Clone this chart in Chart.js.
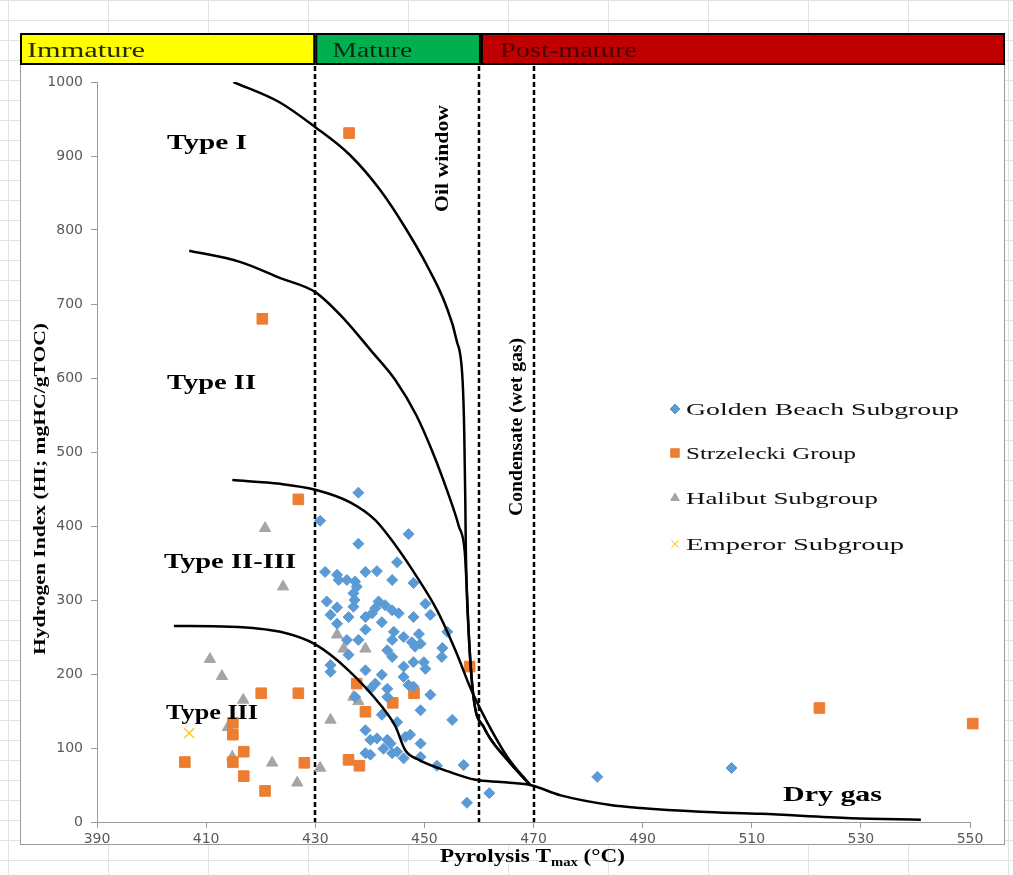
<!DOCTYPE html>
<html>
<head>
<meta charset="utf-8">
<script src="https://cdn.jsdelivr.net/npm/chart.js@4.4.1/dist/chart.umd.min.js"></script>
<style>
  html, body {
    margin: 0; padding: 0; width: 1013px; height: 875px; overflow: hidden;
    background-color: #fff;
    background-image: linear-gradient(to right, #e2e2e2 1px, transparent 1px),
                      linear-gradient(to bottom, #e2e2e2 1px, transparent 1px);
    background-size: 100px 20px;
    background-position: 8px 0;
  }
  #wrap { position: absolute; left: 0; top: 0; width: 1013px; height: 875px; }
  canvas { display: block; }
</style>
</head>
<body>
<div id="wrap"><canvas id="chart" width="1013" height="875"></canvas></div>
<script>
// sample points: [Tmax (°C), HI (mgHC/gTOC)]
const goldenBeach = [
  [430.9,407],[437.9,445],[447.1,389],[437.9,376],[445,351],
  [431.8,338],[434,334],[434.3,327],[435.8,327],[437.3,325],[439.2,338],[441.3,339],[437.6,318],[437,309],[437.2,300],[444.1,327],[448,323],
  [432.1,298],[434,290],[437,291],[441.6,298],[442.8,293],[444.1,286],[445.3,282],[441,289],[440.4,282],[439.2,277],[432.8,280],[436.1,277],[450.2,295],[451.1,280],[448,277],
  [434,268],[442.2,270],[439.2,260],[444.4,257],[446.2,250],[449,254],[454.2,257],[453.3,235],
  [435.8,246],[437.9,246],[444.1,246],[447.7,243],[449.3,241],
  [436.1,226],[443.2,232],[444.1,223],[448.3,237],[448,216],[449.9,216],[450.2,207],[453.2,223],
  [432.8,212],[432.8,203],[439.2,205],[442.2,199],[446.2,210],[446.2,196],[441,187],[440.1,180],[443.2,180],[447.1,185],[448,183],[451.1,172],[437.3,169],[443.2,169],
  [442.2,145],[449.3,151],[455.1,138],[445,135],[439.2,124],[440.1,111],[441.3,113],[443.2,111],[446.5,115],[447.4,118],[442.5,99],[443.8,106],[449.3,106],
  [439.2,93],[440.1,91],[444.1,93],[445,95],[446.2,86],[449.3,88],[452.3,76],[457.2,77],[457.8,26],[461.9,39],[481.7,61],[506.3,73]
];
const strzelecki = [
  [436.2,931],[420.3,680],[426.9,436],[420.1,174],[426.9,174],[414.9,134],[414.9,118],[416.9,95],[406.1,81],[414.9,81],[416.9,62],
  [420.8,42],[428,80],[437.6,187],[439.2,149],[444.2,161],[448.1,174],[436.1,84],[438.1,76],[458.3,210],[522.4,154],[550.5,133]
];
const halibut = [
  [420.8,397],[424.1,318],[410.7,220],[412.9,197],[416.8,165],[414,128],[414.8,88],[422.1,80],[426.7,53],[430.9,73],
  [434,253],[435.2,234],[439.2,234],[437,169],[437.9,163],[432.8,138]
];
const emperor = [[406.9,120]];

// kerogen type boundary curves
const typeI = [[415,1000],[423.6,972],[430,939],[436.4,901],[441.9,854],[446.5,803],[450.7,749],[453.9,699],[455.9,651],[457,597],[457.3,530],[457.5,435],[457.6,368],[458.1,259],[459,169],[460.9,128],[465.2,84],[469.4,50]];
const typeII = [[406.9,772],[416.2,757],[423.6,735],[430,716],[435.5,678],[440.1,638],[444.7,597],[448.5,550],[451.5,500],[454.3,445],[456.3,400],[457.4,365],[457.8,310],[458.1,259],[459,169],[460.9,128],[465.2,84],[469.4,50]];
const typeIIIII = [[414.8,462],[423.6,457],[430,449],[436.4,432],[441,408],[444.7,374],[448.3,335],[452.4,285],[455.8,230],[458.5,180],[461.5,135],[465.2,88],[469.4,50]];
const typeIII = [[404.1,265],[414.4,264],[423.6,257],[430,240],[436.1,205],[442.2,156],[444.7,129],[446.5,97],[449,84],[454.5,68],[459.4,57],[464,54],[469.4,50],[475,36],[484.1,23],[489.6,19],[500.6,14],[511.7,11],[528.2,5],[541,3]];

// maturity boundaries (Tmax) and zone labels
const dashedT = [430, 460, 470];
const zones = ['Immature', 'Mature', 'Post-mature'];
const zoneColors = ['#ffff00', '#00b050', '#c00000'];
const zoneTextColors = ['#2a2a00', '#0d2a0d', '#4a0000'];

const legendNames = ['Golden Beach Subgroup', 'Strzelecki Group', 'Halibut Subgroup', 'Emperor Subgroup'];

const toXY = arr => arr.map(p => ({ x: p[0], y: p[1] }));

function stretchText(ctx, txt, x, y, font, color, width, rot) {
  ctx.save();
  ctx.font = font;
  ctx.fillStyle = color;
  ctx.textBaseline = 'alphabetic';
  ctx.textAlign = 'left';
  const w = ctx.measureText(txt).width;
  ctx.translate(x, y);
  if (rot) ctx.rotate(rot);
  ctx.scale(width ? width / w : 1, 1);
  ctx.fillText(txt, 0, 0);
  ctx.restore();
}

const SERIF = '"Liberation Serif", "Times New Roman", serif';

const curveStyle = {
  showLine: true, pointRadius: 0, borderColor: '#000', borderWidth: 2.5,
  cubicInterpolationMode: 'monotone', order: 0
};

const decor = {
  id: 'decor',
  beforeDraw(chart) {
    const { ctx } = chart;
    const xs = chart.scales.x;
    ctx.save();
    // chart box
    ctx.fillStyle = '#fff';
    ctx.fillRect(20, 33, 985, 812);
    ctx.strokeStyle = '#9a9a9a';
    ctx.lineWidth = 1;
    ctx.strokeRect(20.5, 33.5, 984, 811);
    // maturity banner
    const edges = [20, xs.getPixelForValue(dashedT[0]), xs.getPixelForValue(dashedT[1]) + 2, 1005];
    zones.forEach((z, i) => {
      const x0 = edges[i], x1 = edges[i + 1];
      ctx.fillStyle = zoneColors[i];
      ctx.fillRect(x0, 33, x1 - x0, 31);
      ctx.strokeStyle = '#000';
      ctx.lineWidth = 2;
      ctx.strokeRect(x0 + 1, 34, x1 - x0 - 2, 30);
    });
    ctx.restore();
    const bw = [118, 80, 137];
    zones.forEach((z, i) => {
      stretchText(ctx, z, edges[i] + [7, 17, 19][i], 57, '20px ' + SERIF, zoneTextColors[i], bw[i]);
    });
  },
  beforeDatasetsDraw(chart) {
    const { ctx } = chart;
    const xs = chart.scales.x, ys = chart.scales.y;
    ctx.save();
    ctx.strokeStyle = '#000';
    ctx.lineWidth = 2.5;
    ctx.setLineDash([5, 3]);
    dashedT.forEach(t => {
      const px = Math.round(xs.getPixelForValue(t));
      ctx.beginPath();
      ctx.moveTo(px, 66);
      ctx.lineTo(px, ys.getPixelForValue(0));
      ctx.stroke();
    });
    ctx.restore();
  },
  afterDraw(chart) {
    const { ctx } = chart;
    const bold = 'bold 21px ' + SERIF;
    stretchText(ctx, 'Type I', 167, 149, bold, '#000', 80);
    stretchText(ctx, 'Type II', 167, 389, bold, '#000', 89);
    stretchText(ctx, 'Type II-III', 164, 568, bold, '#000', 132);
    stretchText(ctx, 'Type III', 166, 719, bold, '#000', 92);
    stretchText(ctx, 'Dry gas', 783, 801, bold, '#000', 99);
    stretchText(ctx, 'Oil window', 448, 212, 'bold 19px ' + SERIF, '#000', 107, -Math.PI / 2);
    stretchText(ctx, 'Condensate (wet gas)', 522, 516, 'bold 19px ' + SERIF, '#000', 178, -Math.PI / 2);
    stretchText(ctx, 'Hydrogen Index (HI; mgHC/gTOC)', 45, 655, 'bold 17px ' + SERIF, '#000', 332, -Math.PI / 2);

    // x axis title with subscript
    ctx.save();
    const big = 'bold 19px ' + SERIF, small = 'bold 12px ' + SERIF;
    ctx.font = big;
    const w1 = ctx.measureText('Pyrolysis T').width;
    const w3 = ctx.measureText(' (°C)').width;
    ctx.font = small;
    const w2 = ctx.measureText('max').width;
    const s = 185 / (w1 + w2 + w3);
    ctx.translate(440, 862);
    ctx.scale(s, 1);
    ctx.fillStyle = '#000';
    ctx.font = big;
    ctx.fillText('Pyrolysis T', 0, 0);
    ctx.font = small;
    ctx.fillText('max', w1, 4);
    ctx.font = big;
    ctx.fillText(' (°C)', w1 + w2, 0);
    ctx.restore();

    // legend
    const ly = [409, 453, 498, 544];
    const lw = [273, 170, 192, 218];
    chart.data.datasets.slice(0, 4).forEach((ds, i) => {
      ctx.save();
      ctx.fillStyle = ds.backgroundColor;
      ctx.strokeStyle = ds.borderColor;
      ctx.lineWidth = 1;
      Chart.helpers.drawPoint(ctx, { pointStyle: ds.pointStyle, radius: ds.pointStyle === 'rect' ? 6 : 5, borderWidth: 1, rotation: 0 }, 675, ly[i]);
      ctx.restore();
      stretchText(ctx, legendNames[i], 686, ly[i] + 6, '17px ' + SERIF, '#111', lw[i]);
    });
  }
};

new Chart(document.getElementById('chart'), {
  type: 'scatter',
  data: {
    datasets: [
      { label: legendNames[0], data: toXY(goldenBeach), pointStyle: 'rectRot', pointRadius: 5.5,
        backgroundColor: '#5b9bd5', borderColor: '#5b9bd5', order: 1, clip: 12 },
      { label: legendNames[1], data: toXY(strzelecki), pointStyle: 'rect', pointRadius: 7.5,
        backgroundColor: '#ed7d31', borderColor: '#ed7d31', order: 1, clip: 12 },
      { label: legendNames[2], data: toXY(halibut), pointStyle: 'triangle', pointRadius: 6.5,
        backgroundColor: '#a5a5a5', borderColor: '#a5a5a5', order: 1, clip: 12 },
      { label: legendNames[3], data: toXY(emperor), pointStyle: 'crossRot', pointRadius: 7,
        backgroundColor: '#ffc000', borderColor: '#ffc000', pointBorderWidth: 1.2, order: 1, clip: 12 },
      { label: 'Type I', data: toXY(typeI), ...curveStyle },
      { label: 'Type II', data: toXY(typeII), ...curveStyle },
      { label: 'Type II-III', data: toXY(typeIIIII), ...curveStyle },
      { label: 'Type III', data: toXY(typeIII), ...curveStyle }
    ]
  },
  options: {
    responsive: false,
    animation: false,
    devicePixelRatio: 1,
    layout: { padding: { left: 20, right: 43, top: 82, bottom: 29 } },
    plugins: { legend: { display: false }, tooltip: { enabled: false } },
    scales: {
      x: {
        min: 390, max: 550,
        afterFit: s => { s.height = 24; },
        ticks: { stepSize: 20, color: '#595959', font: { family: 'DejaVu Sans', size: 14 }, padding: 3,
                 callback: v => String(v) },
        grid: { drawOnChartArea: false, tickLength: 6, color: '#9a9a9a' },
        border: { color: '#9a9a9a' }
      },
      y: {
        min: 0, max: 1000,
        afterFit: s => { s.width = 77; },
        ticks: { stepSize: 100, color: '#595959', font: { family: 'DejaVu Sans', size: 14 }, padding: 8,
                 callback: v => String(v) },
        grid: { drawOnChartArea: false, tickLength: 6, color: '#9a9a9a' },
        border: { color: '#9a9a9a' }
      }
    }
  },
  plugins: [decor]
});
</script>
</body>
</html>
